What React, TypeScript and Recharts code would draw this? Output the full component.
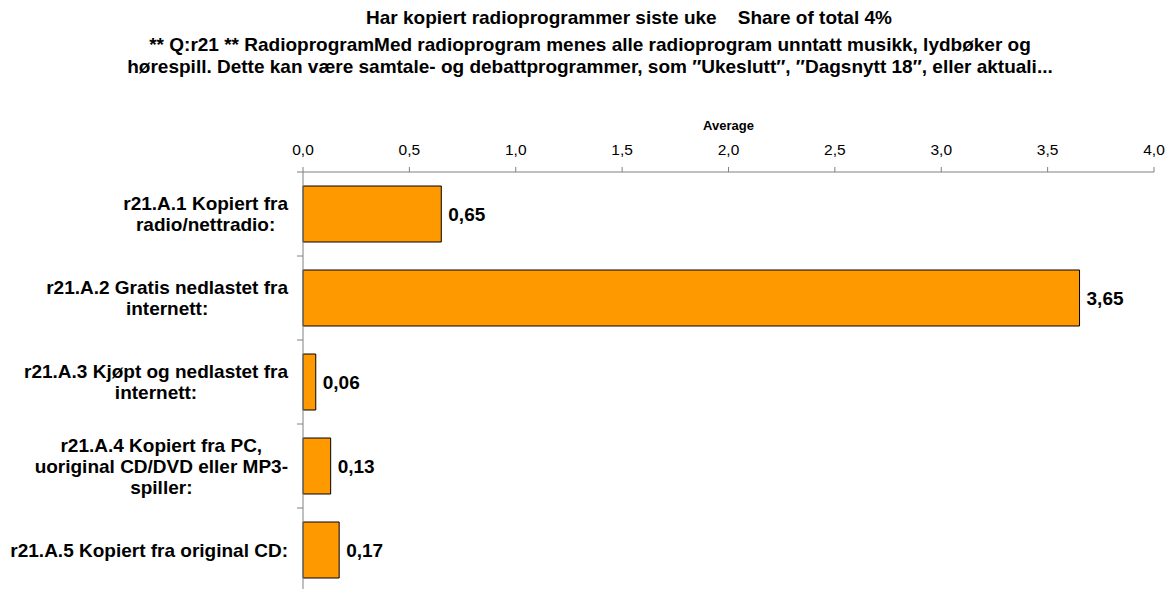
import React from 'react';
import { BarChart, Bar, XAxis, YAxis, LabelList, Label } from 'recharts';

// category labels, with the line breaks the original chart shows
const categories = [
  'r21.A.1 Kopiert fra\nradio/nettradio:',
  'r21.A.2 Gratis nedlastet fra\ninternett:',
  'r21.A.3 Kjøpt og nedlastet fra\ninternett:',
  'r21.A.4 Kopiert fra PC,\nuoriginal CD/DVD eller MP3-\nspiller:',
  'r21.A.5 Kopiert fra original CD:',
];
const averages = [0.65, 3.65, 0.06, 0.13, 0.17];
const xTicks = [0, 0.5, 1, 1.5, 2, 2.5, 3, 3.5, 4];

const titleLines = [
  'Har kopiert radioprogrammer siste uke    Share of total 4%',
  '** Q:r21 ** RadioprogramMed radioprogram menes alle radioprogram unntatt musikk, lydbøker og',
  'hørespill. Dette kan være samtale- og debattprogrammer, som ″Ukeslutt″, ″Dagsnytt 18″, eller aktuali...',
];

const data = categories.map((name, i) => ({ name, value: averages[i] }));

const FONT = '"Liberation Sans", Arial, sans-serif';
const AXIS_COLOR = '#808080';
const CHART_W = 1174;
const CHART_H = 592;
const TOP = 172;
const LEFT = 303;
const BAND = (CHART_H - TOP) / categories.length;
const LABEL_SIZE = 19;

const fmt = (v: number) => v.toFixed(2).replace('.', ',');
const fmtTick = (v: number) => v.toFixed(1).replace('.', ',');

let ctx: CanvasRenderingContext2D | null = null;
const measure = (s: string) => {
  if (!ctx) ctx = document.createElement('canvas').getContext('2d');
  if (!ctx) return s.length * 9;
  ctx.font = `bold ${LABEL_SIZE}px "Liberation Sans"`;
  return ctx.measureText(s).width;
};

const CategoryTick = (props: any) => {
  const { y, payload, index } = props;
  const lines = String(payload.value).split('\n');
  const maxW = Math.max(...lines.map(measure));
  const cx = 288 - maxW / 2;
  const lh = 21;
  const y0 = y - ((lines.length - 1) * lh) / 2;
  return (
    <g>
      <line x1={LEFT - 6} x2={LEFT} y1={y - BAND / 2} y2={y - BAND / 2} stroke={AXIS_COLOR} />
      {index === categories.length - 1 && (
        <line x1={LEFT - 6} x2={LEFT} y1={y + BAND / 2} y2={y + BAND / 2} stroke={AXIS_COLOR} />
      )}
      <text
        x={cx}
        y={y0}
        textAnchor="middle"
        fontFamily={FONT}
        fontWeight="bold"
        fontSize={LABEL_SIZE}
        fill="#000"
      >
        {lines.map((l, i) => (
          <tspan key={i} x={cx} y={y0 + i * lh} dy="0.36em">
            {l}
          </tspan>
        ))}
      </text>
    </g>
  );
};

export default function App() {
  return (
    <div
      style={{
        position: 'fixed',
        left: 0,
        top: 0,
        width: CHART_W,
        height: 589,
        overflow: 'hidden',
        background: '#fff',
      }}
    >
      <div
        style={{
          position: 'absolute',
          left: 0,
          top: 0,
          width: CHART_W,
          fontFamily: FONT,
          fontWeight: 'bold',
          fontSize: 19,
          lineHeight: '22px',
          color: '#000',
          whiteSpace: 'pre',
        }}
      >
        <div style={{ position: 'absolute', top: 7, left: 629 - 400, width: 800, textAlign: 'center' }}>
          {titleLines[0]}
        </div>
        <div style={{ position: 'absolute', top: 34, left: 590 - 560, width: 1120, textAlign: 'center' }}>
          {titleLines[1]}
        </div>
        <div style={{ position: 'absolute', top: 56, left: 590 - 560, width: 1120, textAlign: 'center' }}>
          {titleLines[2]}
        </div>
      </div>
      <div style={{ position: 'absolute', left: 0, top: 0 }}>
        <BarChart
          width={CHART_W}
          height={CHART_H}
          data={data}
          layout="vertical"
          margin={{ top: TOP - 30, right: 20, bottom: 0, left: 0 }}
        >
          <XAxis
            type="number"
            orientation="top"
            domain={[0, 4]}
            ticks={xTicks}
            tickFormatter={fmtTick}
            height={30}
            tickSize={5}
            tickMargin={12}
            axisLine={{ stroke: AXIS_COLOR }}
            tickLine={{ stroke: AXIS_COLOR }}
            tick={{ fill: '#000', fontFamily: FONT, fontSize: 15.5 }}
          >
            <Label
              value="Average"
              position="top"
              offset={12}
              fill="#000"
              fontFamily={FONT}
              fontWeight="bold"
              fontSize={13}
            />
          </XAxis>
          <YAxis
            type="category"
            dataKey="name"
            width={LEFT}
            axisLine={{ stroke: AXIS_COLOR }}
            tickLine={false}
            tick={(p: any) => <CategoryTick {...p} />}
            interval={0}
          />
          <Bar dataKey="value" fill="#FF9900" stroke="#000" strokeWidth={1} barSize={56} isAnimationActive={false}>
            <LabelList
              dataKey="value"
              position="right"
              offset={7}
              formatter={(v: any) => fmt(Number(v))}
              fill="#000"
              fontFamily={FONT}
              fontWeight="bold"
              fontSize={LABEL_SIZE}
            />
          </Bar>
        </BarChart>
      </div>
    </div>
  );
}
